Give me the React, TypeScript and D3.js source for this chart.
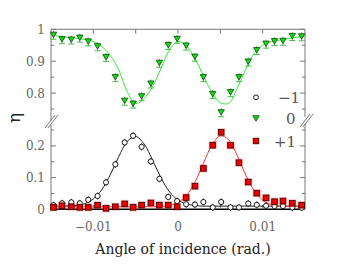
import React from 'react';
import * as d3 from 'd3';

// angle of incidence, mrad
const angles = [-14.7, -13.7, -12.6, -11.6, -10.6, -9.5, -8.5, -7.4, -6.3, -5.3, -4.3, -3.2, -2.2, -1.15, -0.1,
  0.96, 2.0, 3.0, 4.1, 5.1, 6.2, 7.2, 8.3, 9.3, 10.4, 11.4, 12.4, 13.5, 14.6];

const orderM1 = [0.013, 0.019, 0.022, 0.019, 0.03, 0.042, 0.085, 0.142, 0.211, 0.232, 0.197, 0.151, 0.096, 0.039, 0.026,
  0.016, 0.015, 0.023, 0.006, 0.023, 0.006, 0.006, 0.018, 0.014, 0.011, 0.01, 0.01, 0.006, 0.005];
const order0 = [0.983, 0.969, 0.968, 0.974, 0.962, 0.947, 0.913, 0.85, 0.776, 0.767, 0.79, 0.83, 0.895, 0.951, 0.97,
  0.949, 0.914, 0.85, 0.797, 0.74, 0.803, 0.85, 0.899, 0.935, 0.955, 0.963, 0.964, 0.979, 0.978];
const orderP1 = [0.006, 0.011, 0.008, 0.006, 0.006, 0.013, 0.003, 0.008, 0.017, 0.006, 0.013, 0.02, 0.013, 0.013, 0.008,
  0.037, 0.073, 0.129, 0.202, 0.243, 0.202, 0.147, 0.086, 0.051, 0.036, 0.024, 0.026, 0.019, 0.013];

// fitted curves, sampled every 1 mrad
const fitAngles = [-15, -14, -13, -12, -11, -10, -9, -8, -7, -6, -5, -4, -3, -2, -1, 0,
  1, 2, 3, 4, 5, 6, 7, 8, 9, 10, 11, 12, 13, 14, 15];
const fitM1 = [0.01, 0.01, 0.011, 0.012, 0.018, 0.033, 0.062, 0.109, 0.166, 0.214, 0.23, 0.206, 0.155, 0.099, 0.055, 0.029,
  0.017, 0.012, 0.01, 0.01, 0.01, 0.01, 0.01, 0.01, 0.01, 0.01, 0.01, 0.01, 0.01, 0.01, 0.01];
const fit0 = [0.982, 0.978, 0.975, 0.972, 0.968, 0.962, 0.946, 0.918, 0.873, 0.805, 0.767, 0.783, 0.82, 0.878, 0.935, 0.962,
  0.948, 0.908, 0.855, 0.802, 0.77, 0.768, 0.815, 0.875, 0.925, 0.95, 0.961, 0.966, 0.971, 0.975, 0.978];
const fitP1 = [0.008, 0.008, 0.008, 0.008, 0.008, 0.008, 0.008, 0.008, 0.008, 0.008, 0.008, 0.008, 0.008, 0.009, 0.012, 0.022,
  0.044, 0.086, 0.145, 0.202, 0.232, 0.219, 0.169, 0.108, 0.059, 0.029, 0.015, 0.01, 0.009, 0.009, 0.009];

const xTicks = [-0.01, -0.005, 0, 0.005, 0.01];
const xTickLabels = ['−0.01', '', '0', '', '0.01'];
const topTicks = [1, 0.9, 0.8];
const topMinor = [0.95, 0.85, 0.75];
const botTicks = [0.2, 0.1, 0];
const botMinor = [0.25, 0.15, 0.05];
const legendLabels = ['−1', '0', '+1'];

const W = 338;
const H = 266;
const left = 51;
const right = 305;

const x = d3.scaleLinear().domain([-0.015, 0.015]).range([left, right]);
const yTop = d3.scaleLinear().domain([0.72, 1]).range([118.6, 29.3]);
const yBot = d3.scaleLinear().domain([0, 0.26]).range([209.3, 126.9]);

const serif = { fontFamily: "'DejaVu Serif', 'Liberation Serif', serif" };
const gray = '#777';

const fitLine = (ys: number[], y: d3.ScaleLinear<number, number>) =>
  d3.line<number>()
    .x((_, i) => x(fitAngles[i] / 1000))
    .y(d => y(d))
    .curve(d3.curveCatmullRom)(ys) || '';

const tri = (cx: number, cy: number, s: number) =>
  `M${cx - s},${cy - s * 0.8}L${cx + s},${cy - s * 0.8}L${cx},${cy + s * 0.9}Z`;

export default function App() {
  return (
    <svg width={W} height={H} style={{ position: 'absolute', left: 0, top: 0, background: '#fff' }}>
      {/* frame: top panel */}
      <line x1={left} x2={right} y1={29.3} y2={29.3} stroke={gray} strokeWidth={1} />
      <line x1={left} x2={left} y1={29.3} y2={121} stroke={gray} strokeWidth={1} />
      <line x1={right} x2={right} y1={29.3} y2={117} stroke={gray} strokeWidth={1} />
      {/* frame: bottom panel */}
      <line x1={left} x2={left} y1={125} y2={209.3} stroke={gray} strokeWidth={1} />
      <line x1={right} x2={right} y1={124} y2={209.3} stroke={gray} strokeWidth={1} />
      <line x1={left} x2={right} y1={209.3} y2={209.3} stroke="#000" strokeWidth={1.6} />

      {/* break marks */}
      {[0, 3].map(o => (
        <g key={'bl' + o}>
          <line x1={left - 6 + o} x2={left + 4 + o} y1={128} y2={115} stroke={gray} strokeWidth={1} />
          <line x1={right - 5 + o} x2={right + 5 + o} y1={127} y2={114} stroke={gray} strokeWidth={1} />
        </g>
      ))}

      {/* x ticks */}
      {xTicks.map((t, i) => (
        <g key={'xt' + i}>
          <line x1={x(t)} x2={x(t)} y1={29.3} y2={33.5} stroke={gray} />
          <line x1={x(t)} x2={x(t)} y1={209.3} y2={205} stroke={gray} />
          <text x={x(t)} y={231} textAnchor="middle" style={serif} fontSize={12} fill="#666">{xTickLabels[i]}</text>
        </g>
      ))}

      {/* y ticks */}
      {topTicks.map(t => (
        <g key={'tt' + t}>
          <line x1={left} x2={left + 5} y1={yTop(t)} y2={yTop(t)} stroke={gray} />
          <line x1={right} x2={right - 5} y1={yTop(t)} y2={yTop(t)} stroke={gray} />
          <text x={left - 6} y={yTop(t) + 4.5} textAnchor="end" style={serif} fontSize={12} fill="#666">{t}</text>
        </g>
      ))}
      {topMinor.map(t => (
        <g key={'tm' + t}>
          <line x1={left} x2={left + 3} y1={yTop(t)} y2={yTop(t)} stroke={gray} />
          <line x1={right} x2={right - 3} y1={yTop(t)} y2={yTop(t)} stroke={gray} />
        </g>
      ))}
      {botTicks.map(t => (
        <g key={'bt' + t}>
          <line x1={left} x2={left + 5} y1={yBot(t)} y2={yBot(t)} stroke={gray} />
          <line x1={right} x2={right - 5} y1={yBot(t)} y2={yBot(t)} stroke={gray} />
          <text x={left - 6} y={yBot(t) + 4.5} textAnchor="end" style={serif} fontSize={12} fill="#666">{t}</text>
        </g>
      ))}
      {botMinor.map(t => (
        <g key={'bm' + t}>
          <line x1={left} x2={left + 3} y1={yBot(t)} y2={yBot(t)} stroke={gray} />
          <line x1={right} x2={right - 3} y1={yBot(t)} y2={yBot(t)} stroke={gray} />
        </g>
      ))}

      {/* fits */}
      <path d={fitLine(fit0, yTop)} fill="none" stroke="#33ee33" strokeWidth={1} />
      <path d={fitLine(fitM1, yBot)} fill="none" stroke="#222" strokeWidth={1} />
      <path d={fitLine(fitP1, yBot)} fill="none" stroke="#ff3333" strokeWidth={1} />

      {/* order -1 */}
      {orderM1.map((v, i) => (
        <g key={'m' + i}>
          <line x1={x(angles[i] / 1000)} x2={x(angles[i] / 1000)} y1={yBot(v) - 3.5} y2={yBot(v) + 3.5} stroke="#000" strokeWidth={0.8} />
          <circle cx={x(angles[i] / 1000)} cy={yBot(v)} r={2.6} fill="#fff" stroke="#000" strokeWidth={0.9} />
        </g>
      ))}

      {/* order +1 */}
      {orderP1.map((v, i) => (
        <g key={'p' + i}>
          <rect x={x(angles[i] / 1000) - 4} y={yBot(v) - 4} width={8} height={8} fill="#ff3333" opacity={0.35} />
          <rect x={x(angles[i] / 1000) - 2.8} y={yBot(v) - 2.8} width={5.6} height={5.6} fill="#ee0000" stroke="#300" strokeWidth={0.8} />
        </g>
      ))}

      {/* order 0 */}
      {order0.map((v, i) => {
        const cx = x(angles[i] / 1000);
        const cy = yTop(v);
        return (
          <g key={'z' + i}>
            <line x1={cx} x2={cx} y1={cy - 4} y2={cy + 4.5} stroke="#22aa22" strokeWidth={0.8} />
            <line x1={cx - 3} x2={cx + 3} y1={cy + 4.5} y2={cy + 4.5} stroke="#22aa22" strokeWidth={0.8} />
            <path d={tri(cx, cy, 3.2)} fill="#11dd11" stroke="#114411" strokeWidth={0.8} />
          </g>
        );
      })}

      {/* legend */}
      <circle cx={256} cy={97.3} r={2.4} fill="#fff" stroke="#000" strokeWidth={0.9} />
      <path d={tri(256, 118.3, 3.2)} fill="#11dd11" stroke="#114411" strokeWidth={0.8} />
      <rect x={253.2} y={138.2} width={5.6} height={5.6} fill="#ee0000" stroke="#300" strokeWidth={0.8} />
      {legendLabels.map((l, i) => (
        <text key={l} x={[278, 286, 274][i]} y={[103, 124, 147][i]} style={serif} fontSize={15} fill="#555">{l}</text>
      ))}

      {/* axis labels */}
      <text transform="translate(20,118) rotate(-90)" textAnchor="middle" style={serif} fontSize={17} fill="#222">η</text>
      <text x={183} y={254} textAnchor="middle" style={serif} fontSize={14} fill="#222">Angle of incidence (rad.)</text>
    </svg>
  );
}
